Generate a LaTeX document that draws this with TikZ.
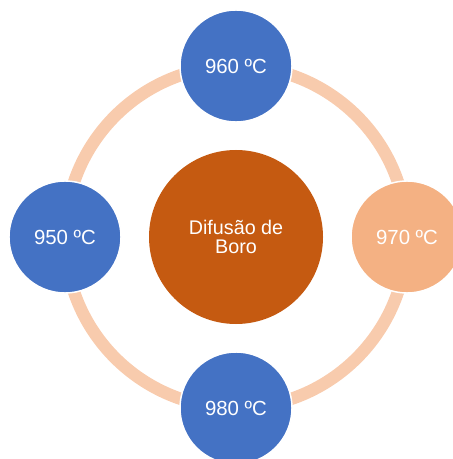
\documentclass[tikz,border=0pt]{standalone}
\usepackage{fontspec}
\setmainfont{Liberation Sans}
\definecolor{ringpeach}{HTML}{F8CBAD}
\definecolor{tempblue}{HTML}{4472C4}
\definecolor{tempsand}{HTML}{F4B183}
\definecolor{corerust}{HTML}{C55A11}
\tikzset{every picture/.style={line width=0.75pt}}
\begin{document}
\begin{tikzpicture}[x=0.75pt,y=0.75pt,yscale=-1,xscale=1,
	temp/.style={circle,draw=white,line width=1.1pt,minimum size=84pt,inner sep=0pt,text=white,font=\fontsize{15.3}{15}\selectfont},
	core/.style={circle,fill=corerust,minimum size=130.5pt,inner sep=0pt,text=white,align=center,font=\fontsize{14.8}{14.4}\selectfont}]
	\useasboundingbox (0,0) rectangle (452,459);
	
	%Shape: Circle [ring]
	\coordinate (mid) at (236,237);
	\draw [ringpeach, line width=9.3pt] (mid) circle [radius=128.25pt];
	
	%Shape: Circle [centre]
	\node [core] (boro) at (236,237) {Difusão de\\Boro};
	%Shape: Circle [top]
	\node [temp, fill=tempblue] (t960) at (236,66) {960 ºC};
	%Shape: Circle [right]
	\node [temp, fill=tempsand] (t970) at (407,237) {970 ºC};
	%Shape: Circle [bottom]
	\node [temp, fill=tempblue] (t980) at (236,408) {980 ºC};
	%Shape: Circle [left]
	\node [temp, fill=tempblue] (t950) at (65,237) {950 ºC};
	
\end{tikzpicture}
\end{document}
